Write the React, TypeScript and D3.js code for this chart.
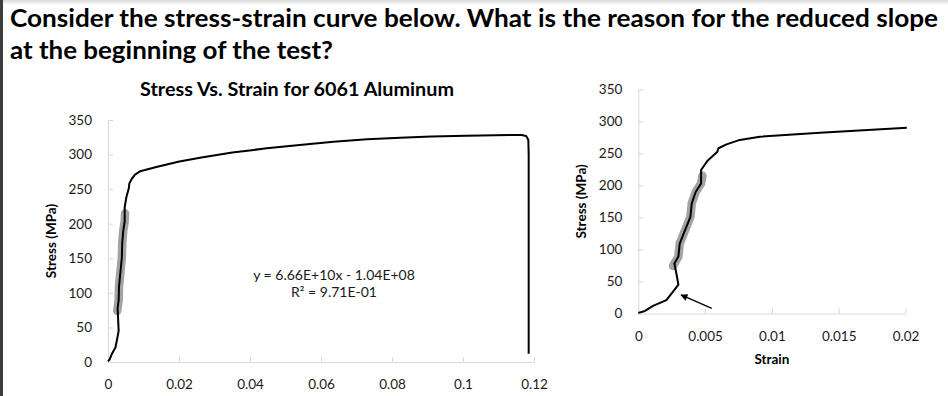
import { useEffect, useRef } from "react";
import * as d3 from "d3";

// test data (strain in m/m, stress in MPa)
const strain = [
  0, 0.0005, 0.0011, 0.0021, 0.0026, 0.003, 0.0029, 0.0027, 0.003, 0.0031,
  0.0035, 0.0039, 0.004, 0.0043, 0.0047, 0.0047, 0.0052, 0.0059, 0.006,
  0.0066, 0.0076, 0.0091, 0.0136, 0.0201, 0.0259, 0.035, 0.0447, 0.054,
  0.0635, 0.073, 0.0823, 0.091, 0.101, 0.109, 0.1165, 0.1178, 0.1184, 0.1185,
  0.1185,
];
const stress = [
  1, 4, 12, 21, 34, 45, 57, 78, 89, 109, 130, 151, 172, 190, 203, 224, 239,
  252, 258, 264, 271, 276, 282, 290, 295.5, 303, 309, 314, 318.5, 322, 324.5,
  326, 327.3, 328, 328.3, 327, 321, 300, 12,
];

// points used for the linear fit (gray highlight)
const fitStrain = [0.0026, 0.0027, 0.003, 0.0031, 0.0035, 0.0039, 0.004, 0.0043, 0.0047, 0.0048];
const fitStress = [74, 78, 89, 109, 130, 151, 172, 190, 203, 215];

const stressTicks = [0, 50, 100, 150, 200, 250, 300, 350];
const strainTicksFull = [0, 0.02, 0.04, 0.06, 0.08, 0.1, 0.12];
const strainTicksZoom = [0, 0.005, 0.01, 0.015, 0.02];

const arrowFrom = [0.0055, 8];
const arrowTo = [0.0032, 29];

const question = [
  "Consider the stress-strain curve below. What is the reason for the reduced slope",
  "at the beginning of the test?",
];
const chartTitle = "Stress Vs. Strain for 6061 Aluminum";
const fitEquation = ["y = 6.66E+10x - 1.04E+08", "R\u00b2 = 9.71E-01"];
const yTitle = "Stress (MPa)";
const xTitle = "Strain";

const FONT = "Lato, 'Open Sans', sans-serif";
const W = 948;
const H = 396;

const App = () => {
  const ref = useRef(null);

  useEffect(() => {
    const svg = d3.select(ref.current);
    svg.selectAll("*").remove();

    svg.append("rect").attr("width", W).attr("height", H).attr("fill", "#fff");

    // page decorations
    const defs = svg.append("defs");
    const grad = defs
      .append("linearGradient")
      .attr("id", "topshade")
      .attr("x1", 0)
      .attr("x2", 0)
      .attr("y1", 0)
      .attr("y2", 1);
    grad.append("stop").attr("offset", "0%").attr("stop-color", "#d8d8d8");
    grad.append("stop").attr("offset", "100%").attr("stop-color", "#fff");
    svg.append("rect").attr("width", W).attr("height", 5).attr("fill", "url(#topshade)");
    svg.append("rect").attr("width", 3).attr("height", H).attr("fill", "#3d3d3d");

    defs
      .append("marker")
      .attr("id", "arrowhead")
      .attr("viewBox", "0 0 10 10")
      .attr("refX", 9)
      .attr("refY", 5)
      .attr("markerWidth", 8)
      .attr("markerHeight", 7)
      .attr("markerUnits", "userSpaceOnUse")
      .attr("orient", "auto")
      .append("path")
      .attr("d", "M0,0L10,5L0,10z")
      .attr("fill", "#000");

    // question text
    svg
      .selectAll(".question")
      .data(question)
      .join("text")
      .attr("class", "question")
      .attr("x", 10)
      .attr("y", (d, i) => 27 + i * 32)
      .attr("textLength", (d, i) => (i === 0 ? 928 : 323))
      .attr("lengthAdjust", "spacingAndGlyphs")
      .style("font-family", FONT)
      .style("font-weight", 700)
      .style("font-size", "25px")
      .attr("fill", "#000")
      .text((d) => d);

    const data = strain.map((s, i) => ({ strain: s, stress: stress[i] }));
    const fitData = fitStrain.map((s, i) => ({ strain: s, stress: fitStress[i] }));

    const drawPanel = (opts) => {
      const { x0, x1, y0, y1, xTicks, xMax, showXTitle, xPad } = opts;
      const g = svg.append("g");

      const xScale = d3.scaleLinear().domain([0, xMax]).range([x0, x1]);
      const yScale = d3.scaleLinear().domain([0, 350]).range([y0, y1]);

      const xAxis = d3
        .axisBottom(xScale)
        .tickValues(xTicks)
        .tickFormat((d) => String(d))
        .tickSizeInner(-5)
        .tickSizeOuter(0)
        .tickPadding(xPad);
      const yAxis = d3
        .axisLeft(yScale)
        .tickValues(stressTicks)
        .tickFormat((d) => String(d))
        .tickSizeInner(-5)
        .tickSizeOuter(0)
        .tickPadding(16);

      const styleAxis = (a) => {
        a.attr("font-family", FONT).attr("font-size", 13.5);
        a.select(".domain").attr("stroke", "#d9d9d9");
        a.selectAll(".tick line").attr("stroke", "#d9d9d9");
        a.selectAll(".tick text").attr("fill", "#1a1a1a");
      };

      g.append("g").attr("transform", `translate(0,${y0})`).call(xAxis).call(styleAxis);
      g.append("g").attr("transform", `translate(${x0},0)`).call(yAxis).call(styleAxis);

      const line = d3
        .line()
        .x((d) => xScale(d.strain))
        .y((d) => yScale(d.stress));

      g.append("path")
        .attr("d", line(fitData))
        .attr("fill", "none")
        .attr("stroke", "#a3a3a3")
        .attr("stroke-width", 8.5)
        .attr("stroke-linecap", "round")
        .attr("stroke-linejoin", "round");

      g.append("path")
        .attr("d", line(data.filter((d) => d.strain <= xMax * 1.01)))
        .attr("fill", "none")
        .attr("stroke", "#000")
        .attr("stroke-width", 2)
        .attr("stroke-linejoin", "round");

      // axis title
      g.append("text")
        .attr("transform", `translate(${x0 - 52},${(y0 + y1) / 2})rotate(-90)`)
        .attr("text-anchor", "middle")
        .style("font-family", FONT)
        .style("font-weight", 700)
        .style("font-size", "13.5px")
        .text(yTitle);

      if (showXTitle) {
        g.append("text")
          .attr("x", (x0 + x1) / 2)
          .attr("y", y0 + 50)
          .attr("text-anchor", "middle")
          .style("font-family", FONT)
          .style("font-weight", 700)
          .style("font-size", "13.5px")
          .text(xTitle);
      }

      return { g, xScale, yScale };
    };

    // full test
    const left = drawPanel({
      x0: 108,
      x1: 534,
      y0: 362,
      y1: 120,
      xTicks: strainTicksFull,
      xMax: 0.12,
      showXTitle: false,
      xPad: 17,
    });

    left.g
      .append("text")
      .attr("x", 297)
      .attr("y", 96)
      .attr("text-anchor", "middle")
      .attr("textLength", 314)
      .attr("lengthAdjust", "spacingAndGlyphs")
      .style("font-family", FONT)
      .style("font-weight", 700)
      .style("font-size", "18px")
      .text(chartTitle);

    left.g
      .selectAll(".eq")
      .data(fitEquation)
      .join("text")
      .attr("class", "eq")
      .attr("x", 334)
      .attr("y", (d, i) => 280 + i * 17)
      .attr("text-anchor", "middle")
      .style("font-family", FONT)
      .style("font-size", "14px")
      .attr("fill", "#1a1a1a")
      .text((d) => d);

    // zoom on the start of the test
    const right = drawPanel({
      x0: 638.3,
      x1: 905.5,
      y0: 313.5,
      y1: 89.3,
      xTicks: strainTicksZoom,
      xMax: 0.02,
      showXTitle: true,
      xPad: 18,
    });

    right.g
      .append("line")
      .attr("x1", right.xScale(arrowFrom[0]))
      .attr("y1", right.yScale(arrowFrom[1]))
      .attr("x2", right.xScale(arrowTo[0]))
      .attr("y2", right.yScale(arrowTo[1]))
      .attr("stroke", "#000")
      .attr("stroke-width", 1.3)
      .attr("marker-end", "url(#arrowhead)");
  }, []);

  return (
    <div style={{ position: "absolute", left: 0, top: 0, width: W, height: H }}>
      <svg ref={ref} width={W} height={H} style={{ display: "block" }}></svg>
    </div>
  );
};

export default App;
